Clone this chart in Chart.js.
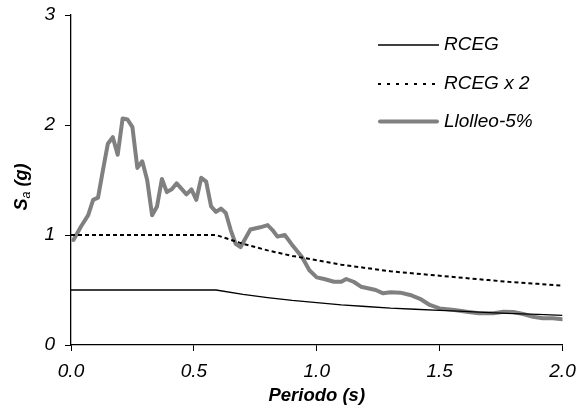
<!DOCTYPE html>
<html>
<head>
<meta charset="utf-8">
<script src="https://cdn.jsdelivr.net/npm/chart.js@4/dist/chart.umd.min.js"></script>
<style>
html,body{margin:0;padding:0;background:#fff;}
#wrap{width:577px;height:408px;position:relative;}
</style>
</head>
<body>
<div id="wrap"><canvas id="c"></canvas></div>
<script>
const xTickLabels = ['0.0','0.5','1.0','1.5','2.0'];
const yTickLabels = ['0','1','2','3'];
const xTitle = 'Periodo (s)';
const seriesLabels = ['RCEG','RCEG x 2','Llolleo-5%'];

const rcegPeriods = [0, 0.59, 0.7, 0.8, 0.9, 1.0, 1.1, 1.2, 1.3, 1.4, 1.5, 1.6, 1.7, 1.8, 1.9, 2.0];
const rcegValues  = [0.50, 0.50, 0.46, 0.43, 0.405, 0.385, 0.365, 0.35, 0.335, 0.325, 0.315, 0.305, 0.295, 0.285, 0.278, 0.27];
const rceg2Values = [1.00, 1.00, 0.92, 0.86, 0.81, 0.77, 0.73, 0.70, 0.67, 0.65, 0.63, 0.61, 0.59, 0.57, 0.556, 0.54];

const llolleoPeriods = [0.01,0.04,0.07,0.09,0.11,0.13,0.15,0.17,0.19,0.21,0.23,0.25,0.27,0.29,0.31,0.33,0.35,0.37,0.39,0.41,0.43,0.45,0.47,0.49,0.51,0.53,0.55,0.57,0.59,0.61,0.63,0.65,0.67,0.69,0.73,0.77,0.80,0.82,0.84,0.87,0.90,0.94,0.97,1.00,1.03,1.07,1.10,1.12,1.15,1.18,1.24,1.27,1.30,1.34,1.38,1.42,1.46,1.50,1.56,1.61,1.66,1.72,1.76,1.80,1.84,1.88,1.92,1.96,2.00];
const llolleoValues  = [0.955,1.075,1.18,1.32,1.34,1.59,1.83,1.89,1.73,2.06,2.05,1.98,1.61,1.67,1.50,1.18,1.26,1.51,1.39,1.415,1.47,1.42,1.37,1.415,1.32,1.52,1.485,1.26,1.21,1.24,1.20,1.045,0.92,0.89,1.05,1.07,1.09,1.045,0.985,1.0,0.91,0.80,0.68,0.615,0.60,0.575,0.575,0.60,0.575,0.53,0.50,0.47,0.48,0.476,0.455,0.42,0.364,0.333,0.318,0.303,0.288,0.288,0.303,0.30,0.282,0.257,0.243,0.243,0.234];

const FONT = '"Liberation Sans", Arial, sans-serif';
const toPts = (xs, ys) => xs.map((x, i) => ({x: x, y: ys[i]}));

const legendDash = [[], [3, 6], []];

const overlay = {
  id: 'overlay',
  afterDraw(chart) {
    const ctx = chart.ctx;
    const a = chart.chartArea;
    ctx.save();
    ctx.fillStyle = '#000';
    // x title
    ctx.font = 'italic bold 18.5px ' + FONT;
    ctx.textAlign = 'center';
    ctx.textBaseline = 'middle';
    ctx.fillText(xTitle, (a.left + a.right) / 2, 396);
    // y title with subscript
    ctx.save();
    ctx.translate(27, 187);
    ctx.rotate(-Math.PI / 2);
    const f1 = 'italic bold 18px ' + FONT;
    const f2 = 'italic 12.5px ' + FONT;
    ctx.font = f1; const w1 = ctx.measureText('S').width; const w3 = ctx.measureText(' (g)').width;
    ctx.font = f2; const w2 = ctx.measureText('a').width;
    let x = -(w1 + w2 + w3) / 2;
    ctx.textAlign = 'left';
    ctx.textBaseline = 'alphabetic';
    ctx.font = f1; ctx.fillText('S', x, 0); x += w1;
    ctx.font = f2; ctx.fillText('a', x, 3); x += w2;
    ctx.font = f1; ctx.fillText(' (g)', x, 0);
    ctx.restore();
    // legend
    const rows = [45, 84, 121.5];
    chart.data.datasets.forEach((ds, i) => {
      const y = rows[i];
      ctx.save();
      ctx.strokeStyle = ds.borderColor;
      ctx.lineWidth = ds.borderWidth;
      ctx.setLineDash(legendDash[i]);
      ctx.lineCap = i === 2 ? 'round' : 'butt';
      ctx.beginPath();
      ctx.moveTo(i === 2 ? 380 : 378, y);
      ctx.lineTo(i === 2 ? 437 : 439, y);
      ctx.stroke();
      ctx.restore();
      ctx.font = 'italic 19px ' + FONT;
      ctx.textAlign = 'left';
      ctx.textBaseline = 'middle';
      ctx.fillText(ds.label, 444, y);
    });
    ctx.restore();
  }
};

new Chart(document.getElementById('c'), {
  type: 'line',
  data: {
    datasets: [
      { label: seriesLabels[0], data: toPts(rcegPeriods, rcegValues), borderColor: '#000', borderWidth: 1.3, pointRadius: 0, tension: 0, fill: false },
      { label: seriesLabels[1], data: toPts(rcegPeriods, rceg2Values), borderColor: '#000', borderWidth: 2, borderDash: [4, 3], pointRadius: 0, tension: 0, fill: false },
      { label: seriesLabels[2], data: toPts(llolleoPeriods, llolleoValues), borderColor: '#808080', borderWidth: 4, borderJoinStyle: 'round', borderCapStyle: 'round', pointRadius: 0, tension: 0, fill: false }
    ]
  },
  options: {
    responsive: true,
    maintainAspectRatio: false,
    animation: false,
    devicePixelRatio: 1,
    layout: { padding: { top: 15, right: 14.5, left: 0, bottom: 0 } },
    plugins: { legend: { display: false }, tooltip: { enabled: false }, title: { display: false } },
    scales: {
      x: {
        type: 'linear', min: 0, max: 2,
        afterFit: s => { s.height = 63; s.paddingLeft = 0; s.paddingRight = 0; },
        afterBuildTicks: s => { s.ticks = xTickLabels.map(v => ({ value: parseFloat(v) })); },
        ticks: { color: '#000', font: { family: FONT, size: 19, style: 'italic' }, padding: 9, maxRotation: 0,
                 callback: (v, i) => xTickLabels[i] },
        grid: { display: true, drawOnChartArea: false, drawTicks: true, tickLength: 6, color: '#000', lineWidth: 1 },
        border: { display: true, color: '#000', width: 1.3 }
      },
      y: {
        type: 'linear', min: 0, max: 3,
        afterFit: s => { s.width = 71; s.paddingTop = 0; s.paddingBottom = 0; },
        afterBuildTicks: s => { s.ticks = yTickLabels.map(v => ({ value: parseFloat(v) })); },
        ticks: { color: '#000', font: { family: FONT, size: 19, style: 'italic' }, padding: 10,
                 callback: (v, i) => yTickLabels[i] },
        grid: { display: true, drawOnChartArea: false, drawTicks: true, tickLength: 6, color: '#000', lineWidth: 1 },
        border: { display: true, color: '#000', width: 1.3 }
      }
    }
  },
  plugins: [overlay]
});
</script>
</body>
</html>
